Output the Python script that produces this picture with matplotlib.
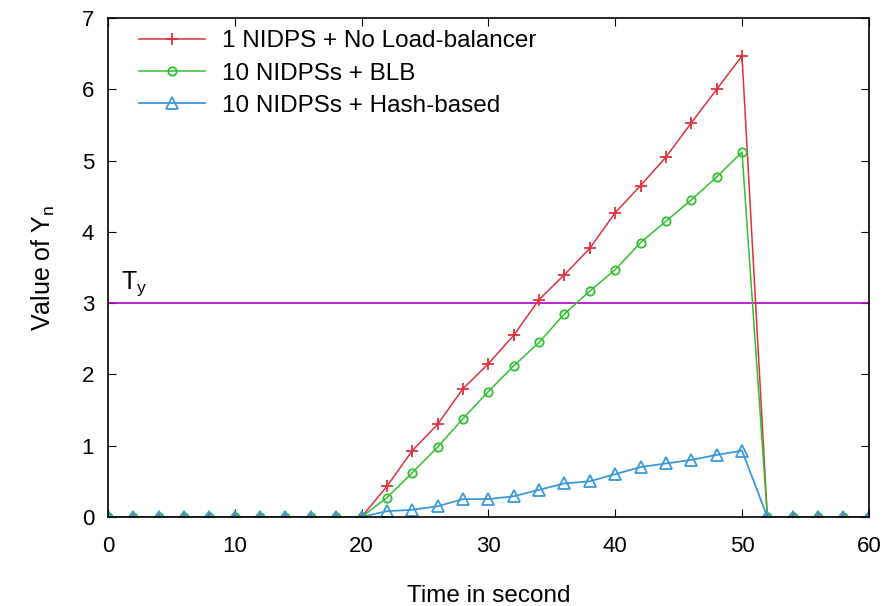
import matplotlib.pyplot as plt

plt.rcParams['font.family'] = ['Liberation Sans', 'DejaVu Sans']
plt.rcParams['mathtext.fontset'] = 'custom'
plt.rcParams['mathtext.rm'] = 'Liberation Sans'

time = list(range(0, 62, 2))
zeros_before = [0] * 11  # 0..20 s
zeros_after = [0] * 5    # 52..60 s

single_nolb = zeros_before + [0.43, 0.93, 1.30, 1.80, 2.15, 2.55, 3.05, 3.40, 3.77,
                              4.27, 4.65, 5.05, 5.53, 6.00, 6.47] + zeros_after
ten_blb = zeros_before + [0.27, 0.62, 0.98, 1.38, 1.76, 2.12, 2.45, 2.85, 3.17,
                          3.47, 3.85, 4.15, 4.45, 4.77, 5.12] + zeros_after
ten_hash = zeros_before + [0.08, 0.10, 0.15, 0.25, 0.25, 0.29, 0.38, 0.47, 0.50,
                           0.60, 0.70, 0.75, 0.80, 0.87, 0.93] + zeros_after
threshold = 3

fig = plt.figure(figsize=(8.92, 6.06), dpi=100)
ax = fig.add_axes([0.121, 0.147, 0.853, 0.823])

ax.axhline(threshold, color='#b000c8', linewidth=1.2)
ax.plot(time, single_nolb, color='#e0303c', linewidth=1.1, marker='+', markersize=9,
        markeredgewidth=1.3, label='1 NIDPS + No Load-balancer')
ax.plot(time, ten_blb, color='#30c030', linewidth=1.1, marker='o', markersize=6,
        markerfacecolor='none', markeredgewidth=1.3, label='10 NIDPSs + BLB')
ax.plot(time, ten_hash, color='#3a9ad8', linewidth=1.3, marker='^', markersize=8,
        markerfacecolor='none', markeredgewidth=1.3, label='10 NIDPSs + Hash-based')

ax.text(1.0, 3.2, 'T$_\\mathregular{y}$', fontsize=18, va='baseline')

ax.set_xlim(0, 60)
ax.set_ylim(0, 7)
ax.set_xticks(range(0, 61, 10))
ax.set_yticks(range(0, 8))
ax.tick_params(direction='in', top=True, right=True, labelsize=16, length=6)
ax.tick_params(axis='x', pad=14)
ax.tick_params(axis='y', pad=10)
for s in ax.spines.values():
    s.set_linewidth(1.2)

ax.set_xlabel('Time in second', fontsize=17.5, labelpad=20)
ax.set_ylabel('Value of Y$_\\mathregular{n}$', fontsize=18, labelpad=18)

ax.legend(loc='upper left', frameon=False, fontsize=17.5, handlelength=2.7,
          borderaxespad=0.2, borderpad=0.3, labelspacing=0.42, handletextpad=0.7,
          bbox_to_anchor=(0.025, 1.0))

fig.savefig('out.png', dpi=100)
